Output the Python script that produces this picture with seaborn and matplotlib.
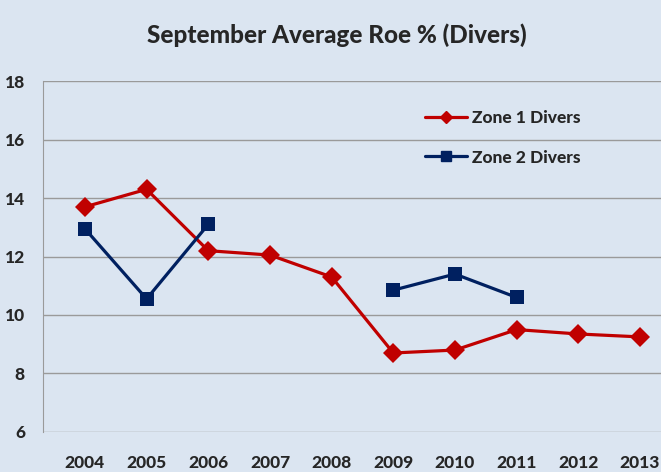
import numpy as np
import pandas as pd
import seaborn as sns
import matplotlib.pyplot as plt
from matplotlib.lines import Line2D

# values
years = [2004, 2005, 2006, 2007, 2008, 2009, 2010, 2011, 2012, 2013]
zone1 = [13.7, 14.3, 12.2, 12.05, 11.3, 8.7, 8.8, 9.5, 9.35, 9.25]
zone2 = [12.95, 10.55, 13.1, np.nan, np.nan, 10.85, 11.4, 10.6, np.nan, np.nan]
zone_names = ['Zone 1 Divers', 'Zone 2 Divers']

bg = '#DBE5F1'
red = '#C00000'
navy = '#002060'

# long table, with a segment id so the gap in zone 2 stays a gap
rows = []
for name, vals in zip(zone_names, [zone1, zone2]):
    seg = 0
    for yr, v in zip(years, vals):
        if np.isnan(v):
            seg += 1
            continue
        rows.append({'year': yr, 'roe': v, 'zone': name, 'seg': f'{name}-{seg}'})
df = pd.DataFrame(rows)

sns.set_style('white')
plt.rcParams['font.family'] = ['Lato', 'DejaVu Sans']

fig = plt.figure(figsize=(6.61, 4.72), dpi=100, facecolor=bg)
ax = fig.add_axes([0.065, 0.085, 0.935, 0.743])
ax.set_facecolor(bg)

sns.lineplot(data=df, x='year', y='roe', hue='zone', style='zone', units='seg',
             estimator=None, palette={zone_names[0]: red, zone_names[1]: navy},
             markers={zone_names[0]: 'D', zone_names[1]: 's'}, dashes=False,
             markersize=10, markeredgewidth=0, linewidth=2.3, ax=ax, legend=False)

ax.set_ylim(6, 18)
ax.set_yticks(range(6, 19, 2))
ax.set_xlim(2003.32, 2013.34)
ax.set_xticks(years)
ax.set_xlabel('')
ax.set_ylabel('')
ax.grid(axis='y', color='#9A9A9A', linewidth=1)
ax.set_axisbelow(True)
for s in ['top', 'right', 'bottom']:
    ax.spines[s].set_visible(False)
ax.spines['left'].set_color('#9A9A9A')
ax.tick_params(axis='y', length=6, color='#9A9A9A', labelsize=12.5, pad=7)
ax.tick_params(axis='x', length=0, labelsize=12.5, pad=17)
for lab in ax.get_xticklabels() + ax.get_yticklabels():
    lab.set_fontweight('black')

fig.suptitle('September Average Roe % (Divers)', x=0.51, y=0.95,
             fontsize=17.5, fontweight='black')

handles = [Line2D([], [], color=red, marker='D', markersize=6, linewidth=2.3),
           Line2D([], [], color=navy, marker='s', markersize=7, linewidth=2.3)]
ax.legend(handles, zone_names, loc='upper left', bbox_to_anchor=(0.593, 0.962),
          frameon=False, prop={'weight': 'black', 'size': 12.5},
          handlelength=2.4, handletextpad=0.3, labelspacing=1.35)

fig.savefig('out.png', dpi=100, facecolor=bg)
